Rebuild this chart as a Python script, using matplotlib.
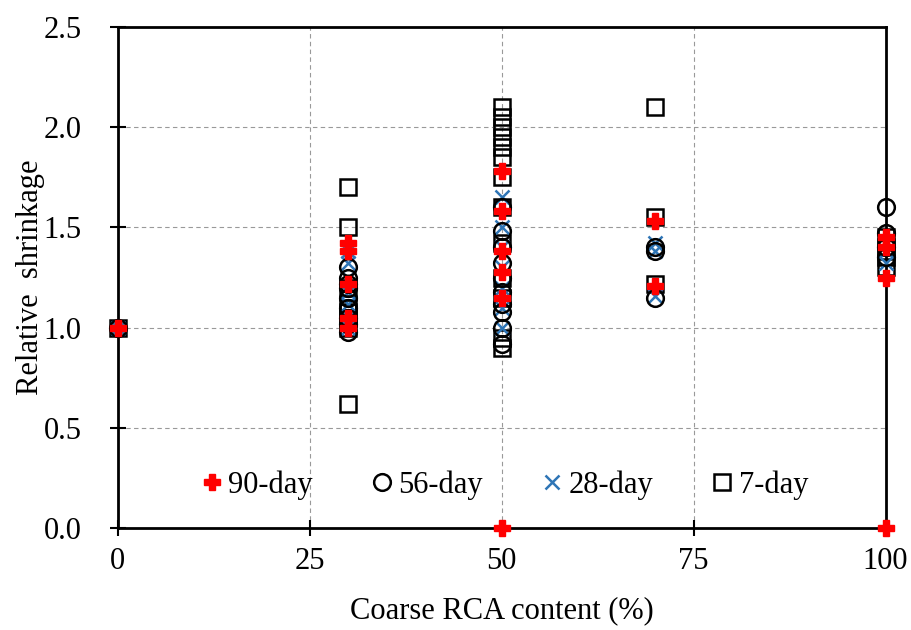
import numpy as np
import matplotlib.pyplot as plt

plt.rcParams['font.family'] = ['Liberation Serif', 'DejaVu Serif']

# Relative shrinkage by coarse RCA content (%)
x90 = [0, 30, 30, 30, 30, 30, 50, 50, 50, 50, 50, 50, 70, 70, 100, 100, 100, 100]
y90 = [1.00, 1.42, 1.38, 1.22, 1.05, 1.00, 1.78, 1.58, 1.38, 1.28, 1.15, 0.00,
       1.53, 1.21, 1.45, 1.40, 1.25, 0.00]

x56 = [0, 30, 30, 30, 30, 30, 30, 30, 30, 30, 50, 50, 50, 50, 50, 50, 50, 50, 50, 50,
       70, 70, 70, 100, 100, 100, 100]
y56 = [1.00, 0.98, 1.02, 1.05, 1.10, 1.15, 1.20, 1.25, 1.30, 1.22,
       1.60, 1.48, 1.40, 1.32, 1.25, 1.18, 1.12, 1.08, 1.00, 0.92,
       1.40, 1.38, 1.15, 1.60, 1.47, 1.40, 1.35]

x28 = [0, 30, 30, 30, 30, 30, 30, 30, 50, 50, 50, 50, 50, 50, 50,
       70, 70, 70, 100, 100, 100]
y28 = [1.00, 1.00, 1.05, 1.12, 1.18, 1.25, 1.32, 1.38,
       1.65, 1.50, 1.40, 1.30, 1.20, 1.10, 1.00,
       1.42, 1.38, 1.16, 1.42, 1.38, 1.32]

x7 = [0, 30, 30, 30, 30, 30, 30, 30, 30,
      50, 50, 50, 50, 50, 50, 50, 50, 50, 50, 50, 50, 50,
      70, 70, 70, 100, 100, 100, 100]
y7 = [1.00, 1.70, 1.50, 0.62, 1.05, 1.08, 1.10, 1.00, 1.20,
      2.10, 2.05, 2.00, 1.95, 1.90, 1.85, 1.75, 1.60, 1.42, 1.25, 1.15, 0.95, 0.90,
      2.10, 1.55, 1.22, 1.45, 1.40, 1.35, 1.30]

fig = plt.figure(figsize=(9.12, 6.30), dpi=100)
ax = fig.add_axes([0.129, 0.162, 0.842, 0.795])

ax.plot(x7, y7, ls='none', marker='s', ms=12, mfc='none', mec='black', mew=1.8,
        label='7-day', zorder=3, clip_on=False)
ax.plot(x28, y28, ls='none', marker='x', ms=10, mec='#2E75B6', mew=1.8,
        label='28-day', zorder=4, clip_on=False)
ax.plot(x56, y56, ls='none', marker='o', ms=12, mfc='none', mec='black', mew=1.8,
        label='56-day', zorder=4, clip_on=False)
ax.plot(x90, y90, ls='none', marker='P', ms=11, mfc='red', mec='red',
        label='90-day', zorder=5, clip_on=False)

ax.set_xlim(0, 100)
ax.set_ylim(0, 2.5)
ax.set_xticks([0, 25, 50, 75, 100])
ax.set_yticks([0.0, 0.5, 1.0, 1.5, 2.0, 2.5])
ax.set_yticklabels(['0.0', '0.5', '1.0', '1.5', '2.0', '2.5'])
ax.tick_params(direction='inout', length=12, width=1.5, labelsize=22)
ax.tick_params(axis='x', pad=8)
ax.tick_params(axis='y', pad=20)
ax.grid(True, ls=(0, (4, 3)), color='#999999', lw=0.8)
for s in ax.spines.values():
    s.set_linewidth(2)

ax.set_xlabel('Coarse RCA content (%)', fontsize=22, labelpad=14)
ax.set_ylabel('Relative  shrinkage', fontsize=22, labelpad=-1)

h, l = ax.get_legend_handles_labels()
ax.legend(h[::-1], l[::-1], loc='center', bbox_to_anchor=(0.5, 0.085), ncol=4,
          frameon=False, fontsize=22, handletextpad=0.0, columnspacing=1.7,
          handlelength=1.1)

fig.savefig('out.png', dpi=100)
